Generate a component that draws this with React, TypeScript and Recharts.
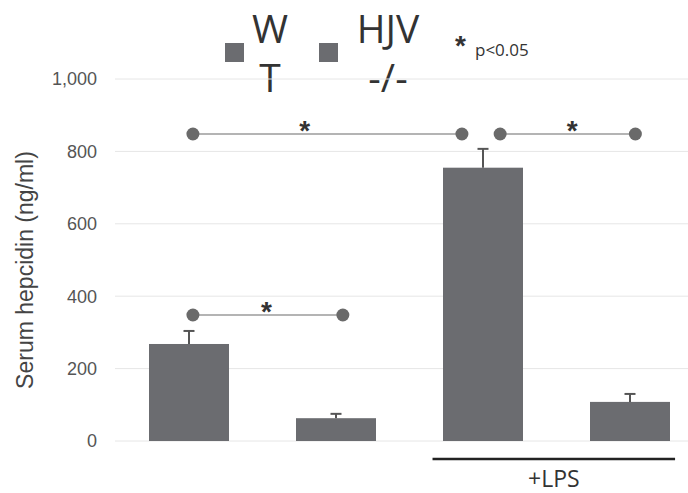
import React from "react";
import {
  ComposedChart,
  Bar,
  Scatter,
  XAxis,
  YAxis,
  CartesianGrid,
  ReferenceLine,
} from "recharts";

// groups along the x axis
const groups = ["WT", "HJV-/-", "WT +LPS", "HJV-/- +LPS"];
const hepcidin = [268, 63, 755, 108];
const sem = [36, 12, 52, 22];
const yTicks = [0, 200, 400, 600, 800, 1000];
const legendLabels = ["WT", "HJV-/-"];

// significance brackets on a 0..4 position scale (one unit per group)
const bracketFrom = [0.53, 2.62, 0.53];
const bracketTo = [2.36, 3.54, 1.55];
const bracketY = [848, 848, 348];
const starX = [1.29, 3.11, 1.03];

const lpsRange = [2.16, 3.81];
const lpsY = -50;

const BAR = "#6b6c70";

const data = groups.map((g, i) => ({
  name: g,
  value: hepcidin[i],
  err: sem[i],
}));

const brackets = bracketFrom.map((f, i) => [
  { x: f, y: bracketY[i] },
  { x: bracketTo[i], y: bracketY[i] },
]);
const stars = starX.map((x, i) => ({ x, y: bracketY[i] }));

// bar with an upward-only error whisker, scaled from the bar's own height
const BarWithErr = (p: any) => {
  const { x, y, width, height, payload } = p;
  const errPx = (payload.err * height) / payload.value;
  const cx = x + width / 2;
  return (
    <g>
      <rect x={x} y={y} width={width} height={height} fill={BAR} />
      <line x1={cx} x2={cx} y1={y} y2={y - errPx} stroke="#555" strokeWidth={2} />
      <line x1={cx - 5.5} x2={cx + 5.5} y1={y - errPx} y2={y - errPx} stroke="#555" strokeWidth={2} />
    </g>
  );
};

const Dot = (p: any) => <circle cx={p.cx} cy={p.cy} r={6.5} fill="#6a6a6a" />;
const Star = (p: any) => (
  <text
    x={p.cx}
    y={p.cy + 6}
    textAnchor="middle"
    fontSize={28}
    fontWeight="bold"
    fontFamily="Liberation Sans, Arial, sans-serif"
    fill="#333"
  >
    *
  </text>
);

export default function App() {
  return (
    <div
      style={{
        position: "absolute",
        left: 0,
        top: 0,
        width: 688,
        height: 493,
        overflow: "hidden",
        background: "#fff",
        fontFamily: "'Open Sans', 'Noto Sans', sans-serif",
      }}
    >
      {/* legend */}
      <div style={{ position: "absolute", left: 225, top: 43, width: 19, height: 19, background: BAR }} />
      <div
        style={{
          position: "absolute",
          left: 247,
          top: 3,
          width: 46,
          fontSize: 39,
          lineHeight: "49px",
          textAlign: "center",
          wordBreak: "break-all",
          color: "#333",
        }}
      >
        {legendLabels[0]}
      </div>
      <div style={{ position: "absolute", left: 319, top: 43, width: 19, height: 19, background: BAR }} />
      <div
        style={{
          position: "absolute",
          left: 352,
          top: 3,
          width: 72,
          fontSize: 39,
          lineHeight: "49px",
          textAlign: "center",
          wordBreak: "break-all",
          color: "#333",
        }}
      >
        {legendLabels[1]}
      </div>
      <div style={{ position: "absolute", left: 455, top: 30, fontSize: 28, fontWeight: "bold", color: "#333", fontFamily: "Liberation Sans, sans-serif" }}>*</div>
      <div style={{ position: "absolute", left: 475, top: 38, fontSize: 17, color: "#333" }}>p&lt;0.05</div>

      <ComposedChart
        width={710}
        height={493}
        data={data}
        margin={{ top: 79, right: 7, bottom: 52, left: 0 }}
        style={{ position: "absolute", left: 0, top: 0 }}
      >
        <CartesianGrid vertical={false} stroke="#e6e6e6" />
        <XAxis dataKey="name" type="category" hide />
        <XAxis xAxisId="pos" dataKey="x" type="number" domain={[0, 4]} hide allowDataOverflow />
        <YAxis
          width={115}
          domain={[0, 1000]}
          ticks={yTicks}
          tickLine={false}
          axisLine={false}
          tickSize={0}
          tickMargin={18}
          tickFormatter={(v: number) => v.toLocaleString("en-US")}
          tick={{ fontSize: 18, fill: "#555", fontFamily: "Liberation Sans, Arial, sans-serif" }}
          label={{
            content: () => (
              <text
                x={33}
                y={270}
                transform="rotate(-90, 33, 270)"
                textAnchor="middle"
                fontSize={23}
                fill="#444"
                fontFamily="Liberation Sans, Arial, sans-serif"
              >
                Serum hepcidin (ng/ml)
              </text>
            ),
          }}
        />
        <Bar dataKey="value" fill={BAR} barSize={80} shape={BarWithErr} isAnimationActive={false} />
        {brackets.map((b, i) => (
          <Scatter
            key={i}
            xAxisId="pos"
            data={b}
            dataKey="y"
            line={{ stroke: "#b4b4b4", strokeWidth: 2 }}
            shape={Dot}
            isAnimationActive={false}
          />
        ))}
        <Scatter xAxisId="pos" data={stars} dataKey="y" shape={Star} isAnimationActive={false} />
        <ReferenceLine
          xAxisId="pos"
          segment={[
            { x: lpsRange[0], y: lpsY },
            { x: lpsRange[1], y: lpsY },
          ]}
          ifOverflow="visible"
          stroke="#222"
          strokeWidth={2.5}
          label={{
            value: "+LPS",
            position: "bottom",
            offset: 12,
            fontSize: 23,
            fill: "#333",
            fontFamily: "'Open Sans', sans-serif",
          }}
        />
      </ComposedChart>
    </div>
  );
}
